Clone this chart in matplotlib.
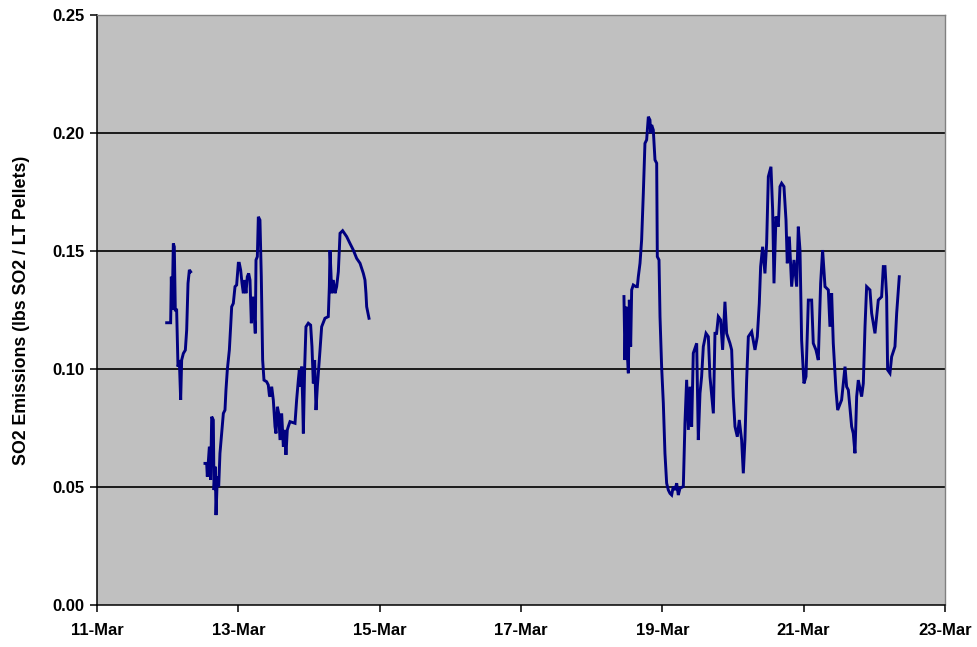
import matplotlib
matplotlib.use("Agg")
import matplotlib.pyplot as plt
import matplotlib.dates as mdates
import numpy as np
import datetime as dt

# Day-of-March (fractional) and SO2 emissions for each continuous run
seg1_day = [11.986, 12.042, 12.052, 12.061, 12.071, 12.080, 12.094, 12.108, 12.127,
            12.146, 12.165, 12.184, 12.198, 12.222, 12.250, 12.269, 12.288, 12.307, 12.325]
seg1_val = [0.1196, 0.1196, 0.1391, 0.1250, 0.1377, 0.1532, 0.1518, 0.1250, 0.1250,
            0.1010, 0.1038, 0.0869, 0.1038, 0.1066, 0.1080, 0.1165, 0.1363, 0.1420, 0.1412]

seg2_day = [12.528, 12.552, 12.561, 12.590, 12.608, 12.623, 12.646, 12.656, 12.674, 12.684,
            12.703, 12.722, 12.740, 12.764, 12.788, 12.811, 12.825, 12.844, 12.873, 12.891,
            12.906, 12.929, 12.953, 12.976, 13.000, 13.014, 13.033, 13.052, 13.071, 13.090,
            13.108, 13.127, 13.146, 13.165, 13.184, 13.203, 13.222, 13.240, 13.250, 13.269,
            13.283, 13.306, 13.325, 13.344, 13.363, 13.401, 13.424, 13.439,
            13.448, 13.472, 13.495, 13.519, 13.533, 13.552, 13.571, 13.590, 13.613, 13.637,
            13.656, 13.674, 13.693, 13.707, 13.731, 13.802, 13.825, 13.849, 13.863, 13.882,
            13.896, 13.910, 13.920, 13.939, 13.957, 13.990, 14.023, 14.042, 14.061, 14.080,
            14.099, 14.118, 14.132, 14.156, 14.179, 14.226, 14.273, 14.288, 14.297, 14.311,
            14.321, 14.344, 14.368, 14.391, 14.415, 14.429, 14.439, 14.476, 14.533, 14.580,
            14.627, 14.674, 14.722, 14.745, 14.769, 14.792, 14.806, 14.816, 14.849]
seg2_val = [0.0600, 0.0600, 0.0544, 0.0671, 0.0530, 0.0798, 0.0784, 0.0487, 0.0586, 0.0381,
            0.0544, 0.0501, 0.0643, 0.0727, 0.0812, 0.0826, 0.0911, 0.0996, 0.1081, 0.1179,
            0.1264, 0.1278, 0.1349, 0.1356, 0.1448, 0.1448, 0.1419, 0.1363, 0.1321, 0.1377,
            0.1321, 0.1391, 0.1405, 0.1377, 0.1194, 0.1306, 0.1250, 0.1151, 0.1462, 0.1476,
            0.1645, 0.1631, 0.1391, 0.1038, 0.0953, 0.0946, 0.0932, 0.0890,
            0.0883, 0.0925, 0.0869, 0.0756, 0.0727, 0.0840, 0.0812, 0.0699, 0.0812, 0.0671,
            0.0742, 0.0636, 0.0742, 0.0756, 0.0777, 0.0770, 0.0869, 0.0953, 0.0996, 0.0925,
            0.1010, 0.0869, 0.0727, 0.1010, 0.1179, 0.1194, 0.1186, 0.1095, 0.0939, 0.1038,
            0.0826, 0.0925, 0.0982, 0.1081, 0.1179, 0.1215, 0.1222, 0.1349, 0.1504, 0.1405,
            0.1321, 0.1377, 0.1321, 0.1349, 0.1412, 0.1504, 0.1575, 0.1586, 0.1561, 0.1532,
            0.1504, 0.1469, 0.1448, 0.1427, 0.1405, 0.1377, 0.1321, 0.1264, 0.1215]

seg3_day = [18.457, 18.471, 18.486, 18.504, 18.519, 18.533, 18.552, 18.566, 18.589, 18.627,
            18.646, 18.660, 18.684, 18.707, 18.731, 18.754, 18.778, 18.802, 18.825, 18.835,
            18.849, 18.872, 18.896, 18.920, 18.929, 18.953, 18.967, 18.990, 19.014, 19.037,
            19.061, 19.085, 19.108, 19.132, 19.155, 19.179, 19.203, 19.226, 19.250, 19.297,
            19.320, 19.344, 19.368, 19.391, 19.415, 19.438, 19.486, 19.509, 19.533, 19.556,
            19.580, 19.618, 19.651, 19.674, 19.722, 19.745, 19.768, 19.792,
            19.825, 19.853, 19.886, 19.910, 19.957, 19.981, 20.004, 20.028, 20.061, 20.089,
            20.122, 20.146, 20.169, 20.193, 20.217, 20.264, 20.311, 20.344, 20.372, 20.391,
            20.419, 20.452, 20.476, 20.500, 20.537, 20.561, 20.580, 20.608, 20.641, 20.665,
            20.688, 20.721, 20.750, 20.768, 20.797, 20.830, 20.863, 20.901, 20.924, 20.948,
            20.971, 21.004, 21.033, 21.066, 21.113, 21.136, 21.174, 21.207, 21.240, 21.268,
            21.302, 21.349, 21.372, 21.396, 21.419, 21.457, 21.481, 21.537, 21.585, 21.608,
            21.632, 21.679, 21.702, 21.726, 21.750, 21.773, 21.820, 21.844, 21.868, 21.891,
            21.938, 21.962, 22.009, 22.056, 22.103, 22.127, 22.151, 22.174, 22.188, 22.221,
            22.245, 22.292, 22.316, 22.353]
seg3_val = [0.1307, 0.1038, 0.1264, 0.1066, 0.0982, 0.1293, 0.1095, 0.1335, 0.1356, 0.1349,
            0.1349, 0.1391, 0.1448, 0.1547, 0.1745, 0.1956, 0.1971, 0.2069, 0.2055, 0.1999,
            0.2034, 0.2013, 0.1886, 0.1872, 0.1476, 0.1462, 0.1222, 0.1010, 0.0855, 0.0643,
            0.0516, 0.0487, 0.0473, 0.0466, 0.0502, 0.0487, 0.0516, 0.0466, 0.0495, 0.0502,
            0.0770, 0.0954, 0.0742, 0.0925, 0.0756, 0.1067, 0.1109, 0.0699, 0.0897, 0.0968,
            0.1095, 0.1151, 0.1137, 0.0968, 0.0812, 0.1151, 0.1151, 0.1222,
            0.1208, 0.1081, 0.1285, 0.1151, 0.1109, 0.1081, 0.0883, 0.0756, 0.0713, 0.0784,
            0.0699, 0.0558, 0.0699, 0.0953, 0.1137, 0.1158, 0.1081, 0.1137, 0.1278, 0.1434,
            0.1518, 0.1405, 0.1533, 0.1815, 0.1857, 0.1674, 0.1363, 0.1646, 0.1603, 0.1773,
            0.1787, 0.1773, 0.1631, 0.1448, 0.1561, 0.1349, 0.1462, 0.1349, 0.1603, 0.1504,
            0.1123, 0.0939, 0.0968, 0.1292, 0.1292, 0.1109, 0.1081, 0.1038, 0.1363, 0.1504,
            0.1349, 0.1335, 0.1179, 0.1321, 0.1109, 0.0911, 0.0826, 0.0869, 0.1010, 0.0925,
            0.0911, 0.0756, 0.0727, 0.0643, 0.0883, 0.0953, 0.0883, 0.0939, 0.1179, 0.1349,
            0.1335, 0.1236, 0.1151, 0.1292, 0.1306, 0.1434, 0.1434, 0.1306, 0.0996, 0.0982,
            0.1052, 0.1095, 0.1236, 0.1391]

y_ticks = [0.00, 0.05, 0.10, 0.15, 0.20, 0.25]
x_tick_days = [11, 13, 15, 17, 19, 21, 23]
y_label = "SO2 Emissions (lbs SO2 / LT Pellets)"

plt.rcParams['font.family'] = ['Liberation Sans', 'DejaVu Sans']

def to_dates(days):
    base = dt.datetime(2007, 3, 1)
    return [mdates.date2num(base + dt.timedelta(days=d - 1)) for d in days]

fig = plt.figure(figsize=(9.77, 6.47), dpi=100)
ax = fig.add_axes([97/977, 42/647, 848/977, 590/647])
ax.set_facecolor('#C0C0C0')

for dys, vals in [(seg1_day, seg1_val), (seg2_day, seg2_val), (seg3_day, seg3_val)]:
    ax.plot(to_dates(dys), vals, color='#000080', lw=2.1, solid_joinstyle='miter', zorder=3)

ax.set_ylim(0, 0.25)
xt = to_dates(x_tick_days)
ax.set_xlim(xt[0], xt[-1])
ax.set_xticks(xt)
ax.xaxis.set_major_formatter(mdates.DateFormatter('%d-%b'))
ax.set_yticks(y_ticks)
ax.set_yticklabels([f"{v:.2f}" for v in y_ticks])

for v in y_ticks[1:-1]:
    ax.axhline(v, color='#1a1a1a', lw=1.4, zorder=1)

for s in ['left', 'bottom']:
    ax.spines[s].set_color('black')
    ax.spines[s].set_linewidth(1.1)
for s in ['top', 'right']:
    ax.spines[s].set_color('#808080')
    ax.spines[s].set_linewidth(1.0)

ax.tick_params(axis='both', direction='out', length=5, width=1.1, color='black',
               labelsize=12)
ax.tick_params(axis='y', pad=4)
ax.tick_params(axis='x', pad=8)
for lab in ax.get_xticklabels() + ax.get_yticklabels():
    lab.set_fontweight('bold')

ax.set_ylabel(y_label, fontsize=12.8, fontweight='bold', labelpad=16)

fig.savefig('out.png', dpi=100, facecolor='white')
